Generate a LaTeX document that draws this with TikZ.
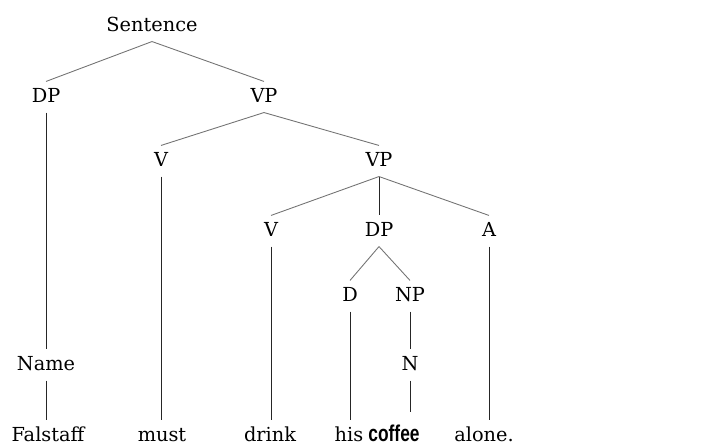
\documentclass[tikz,border=0pt]{standalone}
\usepackage{fontspec}
\setmainfont{DejaVu Serif}
\newfontfamily\coffeefont[FakeStretch=0.76]{Liberation Sans}
\usepackage{tikz}

\begin{document}
\begin{tikzpicture}[x=0.02cm,y=-0.02cm]
    \tikzstyle{cat}=[inner xsep=1pt, inner ysep=4pt, text height=8pt, text depth=1.3pt, font=\fontsize{11}{13}\selectfont]
    \tikzstyle{odd}=[cat, inner ysep=9pt, font=\coffeefont\bfseries\fontsize{13}{15}\selectfont]
    \tikzstyle{branch}=[draw=black!55, line width=0.5pt]
    \tikzstyle{stem}=[draw=black!85, line width=0.5pt]
    \useasboundingbox (0,0) rectangle (715,445);
    % phrase nodes
    \node[cat] (s) at (152,26) {Sentence};
    \node[cat] (dp) at (46,97) {DP};
    \node[cat] (vp) at (264,97) {VP};
    \node[cat] (v) at (161,161) {V};
    \node[cat] (vp2) at (379,161) {VP};
    \node[cat] (v2) at (271,231) {V};
    \node[cat] (dp2) at (379,231) {DP};
    \node[cat] (a) at (489,231) {A};
    \node[cat] (d) at (350,296) {D};
    \node[cat] (np) at (410,296) {NP};
    \node[cat] (name) at (46,365) {Name};
    \node[cat] (n) at (410,365) {N};
    % words
    \node[cat] (w1) at (48,436) {Falstaff};
    \node[cat] (w2) at (162,436) {must};
    \node[cat] (w3) at (270,436) {drink};
    \node[cat] (w4) at (349,436) {his};
    \node[odd] (w5) at (394,436) {coffee};
    \node[cat] (w6) at (484,436) {alone.};
    % branches
    \draw[branch] (s.south) -- (dp.north);
    \draw[branch] (s.south) -- (vp.north);
    \draw[branch] (vp.south) -- (v.north);
    \draw[branch] (vp.south) -- (vp2.north);
    \draw[branch] (vp2.south) -- (v2.north);
    \draw[stem] (vp2.south) -- (dp2.north);
    \draw[branch] (vp2.south) -- (a.north);
    \draw[branch] (dp2.south) -- (d.north);
    \draw[branch] (dp2.south) -- (np.north);
    \draw[stem] (dp.south) -- (name.north);
    \draw[stem] (np.south) -- (n.north);
    \draw[stem] (name.south) -- (name.south |- w1.north);
    \draw[stem] (v.south) -- (v.south |- w2.north);
    \draw[stem] (v2.south) -- (v2.south |- w3.north);
    \draw[stem] (d.south) -- (d.south |- w4.north);
    \draw[stem] (n.south) -- (n.south |- w5.north);
    \draw[stem] (a.south) -- (a.south |- w6.north);
\end{tikzpicture}
\end{document}
